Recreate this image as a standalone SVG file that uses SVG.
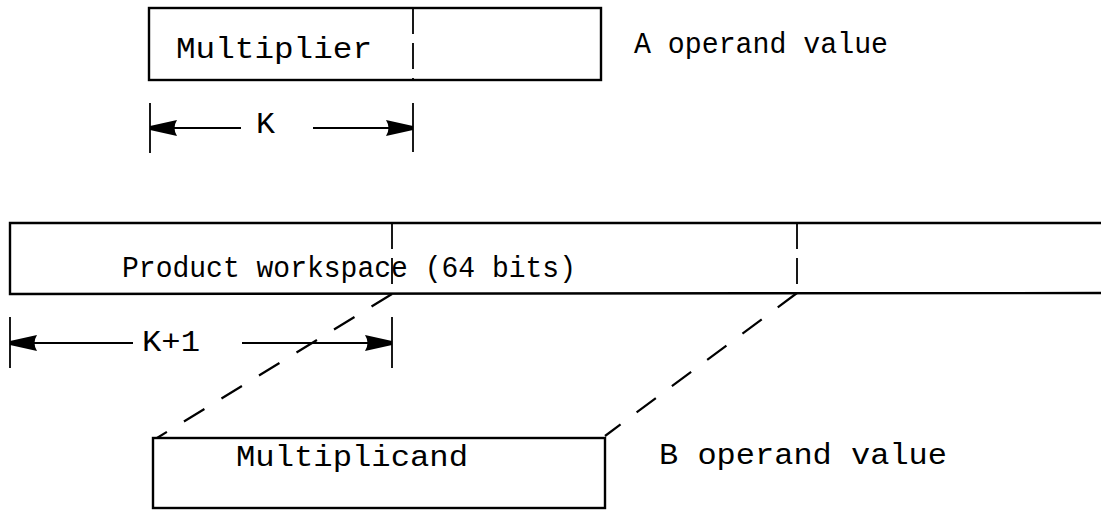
<svg xmlns="http://www.w3.org/2000/svg" width="1101" height="510" viewBox="0 0 1101 510">
<style>
.box{fill:none;stroke:#000;stroke-width:2.4}
.div{fill:none;stroke:#000;stroke-width:1.8;stroke-dasharray:26 9}
.diag{fill:none;stroke:#000;stroke-width:2.2;stroke-dasharray:24 20}
.tick{fill:none;stroke:#000;stroke-width:1.8}
.dim{fill:none;stroke:#000;stroke-width:2.2;marker-end:url(#ah)}
text{font-family:"Liberation Mono","DejaVu Sans Mono",monospace;fill:#000;font-size:30px}
</style>
<defs>
<marker id="ah" markerUnits="userSpaceOnUse" markerWidth="27" markerHeight="20" viewBox="0 0 27 20" refX="27" refY="10" orient="auto">
<path d="M0,2 L27,8 L27,12 L0,18 Q5,10 0,2 z" fill="#000"/>
</marker>
</defs>
<rect width="1101" height="510" fill="#fff"/>
<g id="multiplier">
<rect class="box" x="149" y="8" width="452" height="72"/>
<line class="div" x1="413" y1="8" x2="413" y2="80"/>
<text x="176" y="58" textLength="196" lengthAdjust="spacingAndGlyphs">Multiplier</text>
</g>
<text x="634" y="53" textLength="254" lengthAdjust="spacingAndGlyphs">A operand value</text>
<g id="k-dim">
<line class="tick" x1="150" y1="103" x2="150" y2="153"/>
<line class="tick" x1="413" y1="103" x2="413" y2="152"/>
<line class="dim" x1="241" y1="128" x2="150" y2="128"/>
<line class="dim" x1="313" y1="128" x2="413" y2="128"/>
<text x="256" y="133" textLength="19" lengthAdjust="spacingAndGlyphs">K</text>
</g>
<g id="workspace">
<path class="box" d="M1101,223 L10,223 L10,294 L1101,293"/>
<line class="div" x1="392" y1="223" x2="392" y2="294"/>
<line class="div" x1="797" y1="223" x2="797" y2="293"/>
<text x="122" y="277" textLength="454" lengthAdjust="spacingAndGlyphs">Product workspace (64 bits)</text>
</g>
<g id="k1-dim">
<line class="tick" x1="10" y1="317" x2="10" y2="368"/>
<line class="tick" x1="392" y1="317" x2="392" y2="368"/>
<line class="dim" x1="133" y1="343" x2="10" y2="343"/>
<line class="dim" x1="242" y1="343" x2="392" y2="343"/>
<text x="142" y="351" textLength="58" lengthAdjust="spacingAndGlyphs">K+1</text>
</g>
<g id="connectors">
<line class="diag" x1="392" y1="294" x2="157" y2="438"/>
<line class="diag" x1="797" y1="293" x2="605" y2="436"/>
</g>
<g id="multiplicand">
<rect class="box" x="153" y="438" width="452" height="70"/>
<text x="236" y="466" textLength="232" lengthAdjust="spacingAndGlyphs">Multiplicand</text>
</g>
<text x="659" y="464" textLength="288" lengthAdjust="spacingAndGlyphs">B operand value</text>
</svg>
